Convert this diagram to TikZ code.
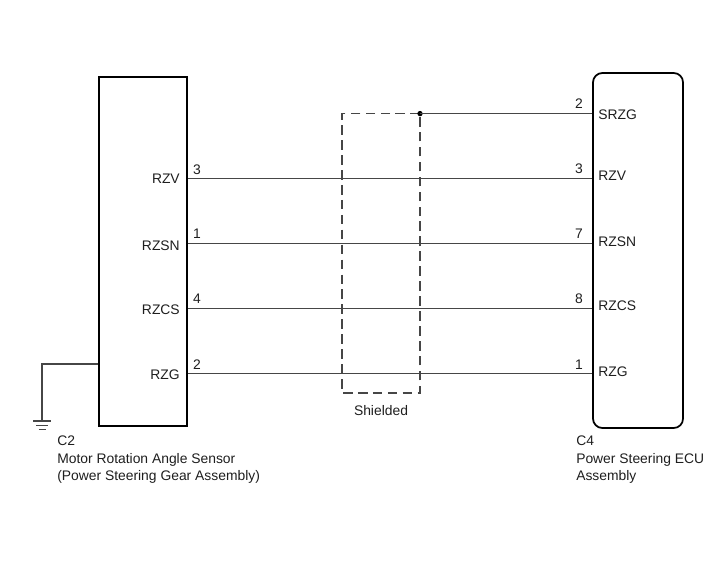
\documentclass[tikz,border=0pt]{standalone}
\usepackage{fontspec}
\setmainfont{Liberation Sans}
\usetikzlibrary{positioning, calc}
\definecolor{wirecolor}{RGB}{70, 70, 70}
\definecolor{textcolor}{RGB}{30, 30, 30}

\begin{document}
\begin{tikzpicture}[
    x=0.75pt, y=-0.75pt,
    box/.style={rectangle, draw=black, line width=1.3pt, inner sep=0pt},
    wire/.style={draw=wirecolor, line width=0.8pt},
    shield/.style={draw=wirecolor, line width=0.8pt, dash pattern=on 7.2pt off 4pt},
    lbl/.style={font=\fontsize{10.4}{13.1}\selectfont, text=textcolor, inner sep=0pt},
    pinlbl/.style={lbl, anchor=mid east},
    ecupin/.style={lbl, anchor=mid west},
    num/.style={lbl, anchor=center},
    caption/.style={lbl, anchor=north west, align=left},
]
\useasboundingbox (0,0) rectangle (713,581);

% ============ boxes ============
\node[box, minimum width=66pt, minimum height=261.75pt] (sensor) at (143,251.5) {};
\node[box, rounded corners=7pt, minimum width=67.5pt, minimum height=266.25pt] (ecu) at (638,250.5) {};

% ============ wire ends ============
\coordinate (s_rzv)  at (sensor.east |- 0,178.6);
\coordinate (s_rzsn) at (sensor.east |- 0,243.6);
\coordinate (s_rzcs) at (sensor.east |- 0,308.6);
\coordinate (s_rzg)  at (sensor.east |- 0,373.6);
\coordinate (e_srzg) at (ecu.west |- 0,113.6);
\coordinate (e_rzv)  at (ecu.west |- 0,178.6);
\coordinate (e_rzsn) at (ecu.west |- 0,243.6);
\coordinate (e_rzcs) at (ecu.west |- 0,308.6);
\coordinate (e_rzg)  at (ecu.west |- 0,373.6);

% ============ shield ============
\coordinate (sh_tr) at (420,113.6);
\coordinate (sh_bl) at (342,393);
\draw[shield] (sh_tr) -- (sh_bl |- sh_tr) -- (sh_bl) -- (sh_tr |- sh_bl) -- (sh_tr);
\fill[black] (sh_tr) circle (2pt);
\node[lbl, anchor=center] (shield_lbl) at (381,411) {Shielded};

% ============ wires ============
\draw[wire] (sh_tr) -- (e_srzg);
\draw[wire] (s_rzv) -- (e_rzv);
\draw[wire] (s_rzsn) -- (e_rzsn);
\draw[wire] (s_rzcs) -- (e_rzcs);
\draw[wire] (s_rzg) -- (e_rzg);

% ============ ground ============
\coordinate (g_start) at (sensor.west |- 0,364);
\coordinate (g_top) at (42,421);
\draw[wire] (g_start) -| (g_top);
\draw[wire] ($(g_top)+(-9,0)$) -- ($(g_top)+(9,0)$);
\draw[wire] ($(g_top)+(-6,4.5)$) -- ($(g_top)+(6,4.5)$);
\draw[wire] ($(g_top)+(-3.5,8.5)$) -- ($(g_top)+(3.5,8.5)$);

% ============ sensor pins ============
\node[pinlbl] (l_rzv)  at (180,180) {RZV};
\node[pinlbl] (l_rzsn) at (180,247) {RZSN};
\node[pinlbl] (l_rzcs) at (180,311) {RZCS};
\node[pinlbl] (l_rzg)  at (180,376) {RZG};
\node[num] (n_s3) at (197,170) {3};
\node[num] (n_s1) at (197,234) {1};
\node[num] (n_s4) at (197,299) {4};
\node[num] (n_s2) at (197,365) {2};

% ============ ecu pins ============
\node[ecupin] (r_srzg) at (598,116) {SRZG};
\node[ecupin] (r_rzv)  at (598,177) {RZV};
\node[ecupin] (r_rzsn) at (598,243) {RZSN};
\node[ecupin] (r_rzcs) at (598,307) {RZCS};
\node[ecupin] (r_rzg)  at (598,373) {RZG};
\node[num] (n_e2) at (579,104) {2};
\node[num] (n_e3) at (579,169) {3};
\node[num] (n_e7) at (579,234) {7};
\node[num] (n_e8) at (579,299) {8};
\node[num] (n_e1) at (579,365) {1};

% ============ captions ============
\node[caption] (cap_sensor) at (57,436) {C2\\Motor Rotation Angle Sensor\\(Power Steering Gear Assembly)};
\node[caption] (cap_ecu) at (576,436) {C4\\Power Steering ECU\\Assembly};

\end{tikzpicture}
\end{document}
